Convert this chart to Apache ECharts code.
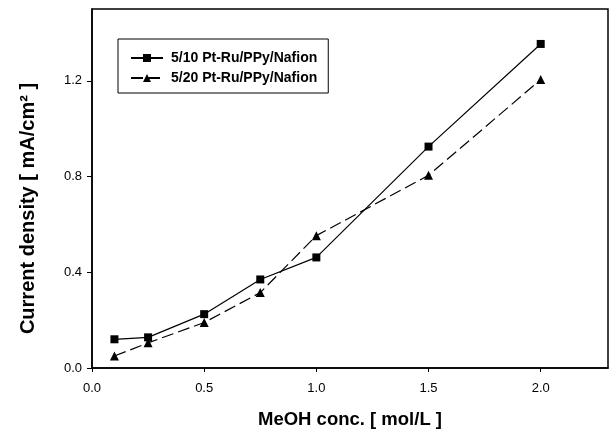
<!DOCTYPE html>
<html><head><meta charset="utf-8">
<script src="https://cdn.jsdelivr.net/npm/echarts@6/dist/echarts.min.js"></script>
<style>html,body{margin:0;padding:0;background:#fff}#c{width:613px;height:434px}</style>
</head><body><div id="c"></div>
<script>
const conc = [0.1, 0.25, 0.5, 0.75, 1.0, 1.5, 2.0];
const s510 = [0.12, 0.128, 0.225, 0.37, 0.462, 0.925, 1.354];
const s520 = [0.05, 0.105, 0.19, 0.315, 0.553, 0.805, 1.205];
const name510 = '5/10 Pt-Ru/PPy/Nafion';
const name520 = '5/20 Pt-Ru/PPy/Nafion';
const font = 'Liberation Sans, Arial, sans-serif';
const chart = echarts.init(document.getElementById('c'));
chart.setOption({
  animation: false,
  backgroundColor: '#fff',
  grid: {left: 92, right: 5, top: 9, bottom: 66, show: true, borderColor: '#000', borderWidth: 1.5,
    containLabel: false, outerBoundsMode: 'none'},
  legend: {
    left: 118, top: 39, orient: 'vertical',
    backgroundColor: '#fff', borderColor: '#000', borderWidth: 1,
    padding: [12, 11, 8, 12], itemGap: 6, itemWidth: 32, itemHeight: 10,
    textStyle: {fontFamily: font, fontSize: 14, lineHeight: 14, fontWeight: 'bold', color: '#000', padding: [0, 0, 0, 3]},
    data: [name510, name520]
  },
  xAxis: {
    type: 'value', min: 0, max: 2.3, interval: 0.5,
    name: 'MeOH conc. [ mol/L ]', nameLocation: 'middle', nameGap: 42,
    nameTextStyle: {fontFamily: font, fontSize: 18.5, fontWeight: 'bold', color: '#000'},
    axisLine: {lineStyle: {color: '#000', width: 1.5}},
    axisTick: {inside: false, length: 4, lineStyle: {color: '#000'}},
    axisLabel: {showMaxLabel: false, fontFamily: font, fontSize: 13, color: '#000', margin: 14,
      formatter: v => v.toFixed(1)},
    splitLine: {show: false}
  },
  yAxis: {
    type: 'value', min: 0, max: 1.5, interval: 0.4,
    name: 'Current density [ mA/cm² ]', nameLocation: 'middle', nameGap: 54,
    nameTextStyle: {fontFamily: font, fontSize: 20, fontWeight: 'bold', color: '#000', padding: [0, 40, 0, 0]},
    axisLine: {lineStyle: {color: '#000', width: 1.5}},
    axisTick: {length: 5, lineStyle: {color: '#000'}},
    axisLabel: {showMaxLabel: false, fontFamily: font, fontSize: 13, color: '#000', margin: 10,
      formatter: v => v.toFixed(1)},
    splitLine: {show: false}
  },
  series: [
    {
      name: name510, type: 'line',
      data: conc.map((x, i) => [x, s510[i]]),
      symbol: 'rect', symbolSize: 8,
      itemStyle: {color: '#000'},
      lineStyle: {color: '#000', width: 1.2, type: 'solid'}
    },
    {
      name: name520, type: 'line',
      data: conc.map((x, i) => [x, s520[i]]),
      symbol: 'triangle', symbolSize: 9,
      itemStyle: {color: '#000'},
      lineStyle: {color: '#000', width: 1.2, type: [12, 5]}
    }
  ]
});
</script></body></html>
